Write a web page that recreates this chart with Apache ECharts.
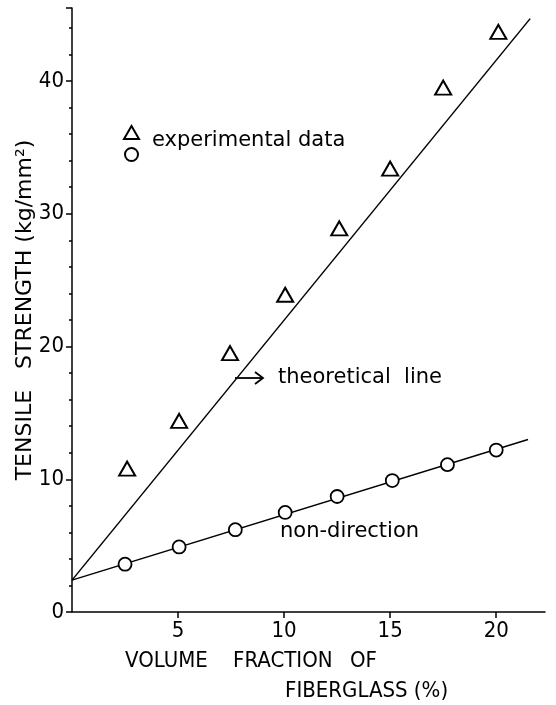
<!DOCTYPE html>
<html>
<head>
<meta charset="utf-8">
<script src="https://cdn.jsdelivr.net/npm/echarts@6/dist/echarts.min.js"></script>
<style>
  html, body { margin: 0; padding: 0; background: #fff; }
  #chart { width: 556px; height: 705px; }
</style>
</head>
<body>
<div id="chart"></div>
<script>
'use strict';
// experimental data (triangles)
var expX = [2.6, 5.05, 7.45, 10.05, 12.6, 15.0, 17.5, 20.1];
var expY = [10.8, 14.4, 19.5, 23.9, 28.9, 33.4, 39.5, 43.7];
// non-direction (circles)
var ndX = [2.5, 5.05, 7.7, 10.05, 12.5, 15.1, 17.7, 20.0];
var ndY = [3.6, 4.9, 6.2, 7.5, 8.7, 9.9, 11.1, 12.2];
// line end points
var theoX = [0, 21.6];
var theoY = [2.4, 44.7];
var ndLineX = [0, 21.5];
var ndLineY = [2.4, 13.0];

var NARROW = '"DejaVu Sans Condensed", "Liberation Sans Narrow", "DejaVu Sans", sans-serif';
var NORMAL = '"DejaVu Sans", sans-serif';

function pairs(xs, ys) {
    return xs.map(function(x, i) { return [x, ys[i]]; });
}

var chart = echarts.init(document.getElementById('chart'));

var option = {
    backgroundColor: '#fff',
    animation: false,
    textStyle: { fontFamily: NARROW, color: '#000' },
    grid: { left: 72, right: 11, top: 8, bottom: 93, outerBoundsMode: 'none' },
    legend: {
        orient: 'vertical',
        left: 118,
        top: 120,
        itemWidth: 15,
        itemHeight: 13,
        itemGap: 7,
        formatter: function() { return ''; },
        data: ['experimental data', 'non-direction']
    },
    xAxis: {
        type: 'value',
        min: 0,
        max: 22.3,
        interval: 5,
        axisLine: { lineStyle: { color: '#000', width: 1.5 } },
        axisTick: { show: true, length: 6, lineStyle: { color: '#000', width: 1.5 } },
        axisLabel: { showMinLabel: false, showMaxLabel: false, fontSize: 22, color: '#000', margin: 8, fontFamily: NARROW },
        splitLine: { show: false }
    },
    yAxis: {
        type: 'value',
        min: 0,
        max: 45.5,
        interval: 10,
        name: 'TENSILE   STRENGTH (kg/mm²)',
        nameLocation: 'middle',
        nameGap: 36,
        nameMoveOverlap: false,
        nameTextStyle: { fontSize: 22, color: '#000', fontFamily: NORMAL },
        axisLine: { lineStyle: { color: '#000', width: 1.5 } },
        axisTick: { show: true, length: 6, lineStyle: { color: '#000', width: 1.5 } },
        minorTick: { show: true, splitNumber: 5, length: 3, lineStyle: { color: '#000', width: 1.5 } },
        axisLabel: { showMaxLabel: false, fontSize: 22, color: '#000', margin: 8, fontFamily: NARROW },
        splitLine: { show: false }
    },
    series: [{
        name: 'theoretical line',
        type: 'line',
        data: pairs(theoX, theoY),
        symbol: 'none',
        lineStyle: { color: '#000', width: 1.5 },
        z: 2
    }, {
        name: 'non-direction line',
        type: 'line',
        data: pairs(ndLineX, ndLineY),
        symbol: 'none',
        lineStyle: { color: '#000', width: 1.5 },
        z: 2
    }, {
        name: 'non-direction',
        type: 'scatter',
        data: pairs(ndX, ndY),
        symbol: 'circle',
        symbolSize: 13,
        itemStyle: { color: '#fff', borderColor: '#000', borderWidth: 1.8, opacity: 1 },
        z: 3
    }, {
        name: 'experimental data',
        type: 'scatter',
        data: pairs(expX, expY),
        symbol: 'triangle',
        symbolSize: [16, 14],
        itemStyle: { color: 'rgba(255,255,255,0)', borderColor: '#000', borderWidth: 2, opacity: 1 },
        z: 4
    }],
    graphic: [{
        type: 'text', left: 152, top: 130,
        style: { text: 'experimental data', fontSize: 21, fontFamily: NORMAL, fill: '#000' }
    }, {
        type: 'line',
        shape: { x1: 235, y1: 378, x2: 262, y2: 378 },
        style: { stroke: '#000', lineWidth: 1.8 }
    }, {
        type: 'polyline',
        shape: { points: [[255, 372], [263, 378], [255, 384]] },
        style: { stroke: '#000', lineWidth: 1.8, fill: null }
    }, {
        type: 'text', left: 278, top: 367,
        style: { text: 'theoretical  line', fontSize: 21, fontFamily: NORMAL, fill: '#000' }
    }, {
        type: 'text', left: 280, top: 521,
        style: { text: 'non-direction', fontSize: 21, fontFamily: NORMAL, fill: '#000' }
    }, {
        type: 'text', left: 125, top: 650,
        style: { text: 'VOLUME', fontSize: 22, fontFamily: NARROW, fill: '#000' }
    }, {
        type: 'text', left: 233, top: 650,
        style: { text: 'FRACTION', fontSize: 22, fontFamily: NARROW, fill: '#000' }
    }, {
        type: 'text', left: 350, top: 650,
        style: { text: 'OF', fontSize: 22, fontFamily: NARROW, fill: '#000' }
    }, {
        type: 'text', left: 285, top: 680,
        style: { text: 'FIBERGLASS (%)', fontSize: 22, fontFamily: NARROW, fill: '#000' }
    }]
};

chart.setOption(option);
</script>
</body>
</html>
